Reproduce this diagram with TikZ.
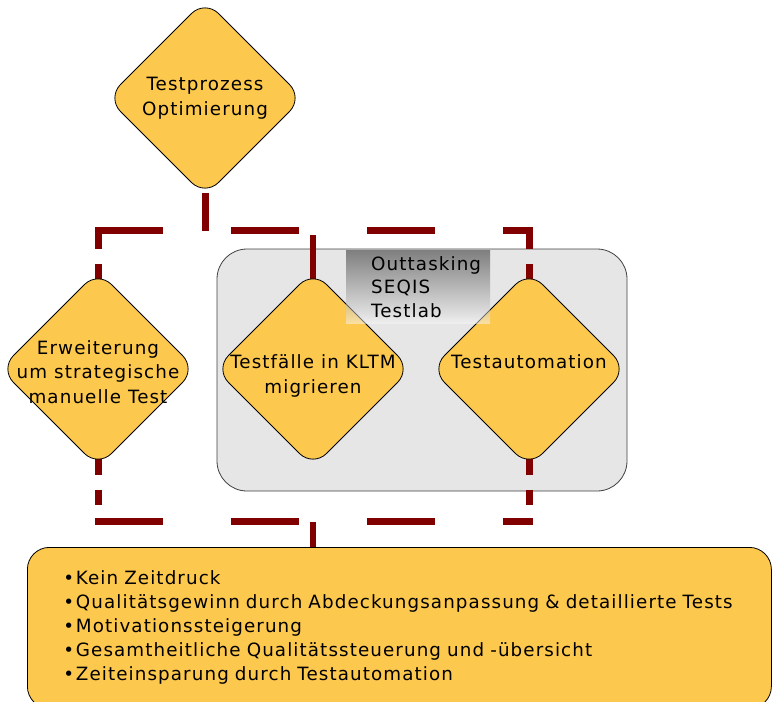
\documentclass[tikz,border=0pt]{standalone}
\usepackage{fontspec}
\setmainfont{DejaVu Sans}[LetterSpace=6]
\usetikzlibrary{shapes.geometric,backgrounds}
\definecolor{dyellow}{RGB}{253,200,78}
\definecolor{dred}{RGB}{128,0,0}
\definecolor{lgray}{RGB}{230,230,230}
\begin{document}
\begin{tikzpicture}[x=1pt, y=-1pt, font=\fontsize{18.3}{24.5}\selectfont, line join=round,
	decision/.style={diamond, draw=black, line width=0.8pt, fill=dyellow, rounded corners=19pt, minimum width=196pt, minimum height=196pt, inner sep=0pt, outer sep=0pt},
	dtext/.style={align=center, inner sep=0pt},
	labbox/.style={draw=black!75, line width=0.8pt, fill=lgray, rounded corners=30pt, minimum width=410pt, minimum height=242pt},
	labtag/.style={top color=black!90, bottom color=white!97!black, fill opacity=0.5, text opacity=1, minimum width=144pt, minimum height=73pt, text width=94pt, inner xsep=25pt, inner ysep=0pt, align=left, font=\fontsize{18.3}{23.5}\selectfont},
	notes/.style={draw=black, line width=0.8pt, fill=dyellow, rounded corners=22pt, minimum width=744pt, minimum height=161pt, text width=672pt, inner xsep=36pt, align=left, font=\fontsize{18.3}{24}\selectfont},
	link/.style={draw=dred, line width=7pt},
	hlink/.style={link, dash pattern=on 68pt off 68pt, shorten <=-3.5pt, shorten >=-3.5pt},
	vlink/.style={link, dash pattern=on 15.5pt off 15pt, shorten <=-8pt}]
	\def\itm#1{\mbox{\makebox[12.5pt][l]{•}#1}}
	\useasboundingbox (0,0) rectangle (772,702);
	\node[decision] (opt) at (205,98) {};
	\node[dtext] (optT) at (opt) {Testprozess\\Optimierung};
	\node[decision] (erw) at (98,369) {};
	\node[dtext] (erwT) at (98,372) {Erweiterung\\um strategische\\manuelle Test};
	\node[decision] (kltm) at (313,369) {};
	\node[dtext] (kltmT) at (313,376) {Testfälle in KLTM\\migrieren};
	\node[decision] (auto) at (529,369) {};
	\node[dtext] (autoT) at (529,362) {Testautomation};
	\node[labtag, anchor=north west] (tag) at (346,250) {Outtasking\\SEQIS\\Testlab};
	\node[notes, anchor=north west] (notes) at (27,547) {\itm{Kein Zeitdruck}\\\itm{Qualitätsgewinn durch Abdeckungsanpassung \& detaillierte Tests}\\\itm{Motivationssteigerung}\\\itm{Gesamtheitliche Qualitätssteuerung und -übersicht}\\\itm{Zeiteinsparung durch Testautomation}};
	\begin{scope}[on background layer]
		\node[labbox] (lab) at (422,370) {};
		\coordinate (tl) at (98,230.5); \coordinate (tr) at (529,230.5);
		\coordinate (bl) at (98,521.5); \coordinate (br) at (529,521.5);
		\draw[hlink] (tl) -- (tr);
		\draw[hlink] (bl) -- (br);
		\draw[link, shorten <=-3pt] (opt.south) -- (opt |- tl);
		\draw[vlink] (erw.north) -- (tl);
		\draw[vlink] (erw.south) -- (bl);
		\draw[vlink] (auto.north) -- (tr);
		\draw[vlink] (auto.south) -- (br);
		\draw[link, line width=6.5pt, shorten <=-8pt, shorten >=4pt] (kltm.north) -- (kltm |- tl);
		\draw[link, line width=6.5pt] (kltm |- bl) -- (kltm |- notes.north);
	\end{scope}
\end{tikzpicture}
\end{document}
